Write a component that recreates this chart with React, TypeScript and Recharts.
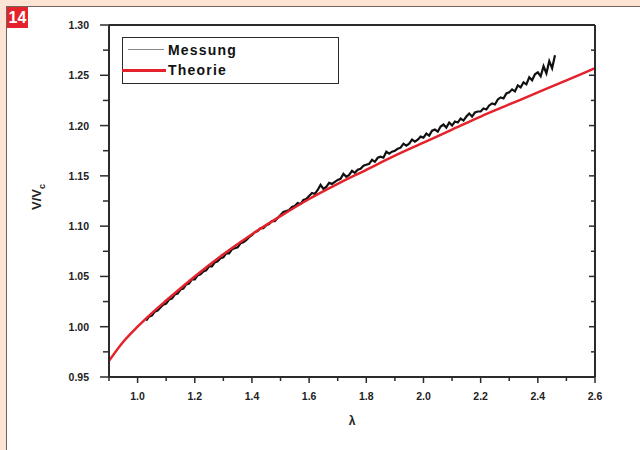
import { LineChart, Line, XAxis, YAxis } from "recharts";

const AXIS = "#2b2b2b";
const RED = "#e3222b";
const FONT = "'Liberation Sans', Arial, sans-serif";

const xTicks = [0.9, 1.0, 1.1, 1.2, 1.3, 1.4, 1.5, 1.6, 1.7, 1.8, 1.9, 2.0, 2.1, 2.2, 2.3, 2.4, 2.5, 2.6];
const yTicks = [0.95, 0.975, 1.0, 1.025, 1.05, 1.075, 1.1, 1.125, 1.15, 1.175, 1.2, 1.225, 1.25, 1.275, 1.3];

// Theorie
const theoryLambda = [0.9, 0.95, 1.0, 1.05, 1.1, 1.2, 1.3, 1.4, 1.5, 1.6, 1.7, 1.8, 1.9, 2.0, 2.1, 2.2, 2.3, 2.4, 2.5, 2.6];
const theoryRatio = [0.966, 0.985, 1.0, 1.0135, 1.026, 1.05, 1.072, 1.092, 1.11, 1.127, 1.142, 1.156, 1.17, 1.183, 1.196, 1.209, 1.221, 1.233, 1.245, 1.257];

// Messung, sampled every 0.01 from lambda = 1.03
const measStart = 1.03;
const measStep = 0.01;
const measRatio = [
  1.006, 1.010, 1.011, 1.015, 1.016, 1.019, 1.022,
  1.023, 1.027, 1.028, 1.032, 1.033, 1.037, 1.038, 1.042, 1.043, 1.047,
  1.047, 1.051, 1.052, 1.055, 1.056, 1.060, 1.060, 1.064, 1.065, 1.068,
  1.069, 1.073, 1.073, 1.077, 1.078, 1.079, 1.083, 1.084, 1.086, 1.089,
  1.091, 1.094, 1.095, 1.098, 1.098, 1.101, 1.102, 1.105, 1.105, 1.108,
  1.111, 1.114, 1.115, 1.116, 1.119, 1.120, 1.123, 1.122, 1.126, 1.127,
  1.130, 1.133, 1.132, 1.136, 1.141, 1.137, 1.139, 1.143, 1.142, 1.144,
  1.146, 1.147, 1.152, 1.149, 1.151, 1.155, 1.153, 1.156, 1.157, 1.160,
  1.161, 1.162, 1.166, 1.164, 1.168, 1.169, 1.168, 1.174, 1.172, 1.174,
  1.175, 1.177, 1.178, 1.182, 1.180, 1.182, 1.186, 1.184, 1.186, 1.189,
  1.188, 1.192, 1.190, 1.195, 1.196, 1.194, 1.199, 1.201, 1.198, 1.203,
  1.200, 1.204, 1.203, 1.207, 1.205, 1.209, 1.212, 1.209, 1.213, 1.214,
  1.214, 1.217, 1.216, 1.220, 1.222, 1.221, 1.226, 1.228, 1.227, 1.232,
  1.233, 1.236, 1.234, 1.240, 1.238, 1.243, 1.241, 1.248, 1.245, 1.251,
  1.253, 1.249, 1.259, 1.252, 1.264, 1.257, 1.270,
];

const theoryData = theoryLambda.map((l, i) => ({ lambda: l, ratio: theoryRatio[i] }));
const measData = measRatio.map((r, i) => ({
  lambda: Number((measStart + i * measStep).toFixed(2)),
  ratio: r,
}));

const isMajorX = (v: number) => Math.round(v * 10) % 2 === 0;
const isMajorY = (v: number) => Math.round(v * 1000) % 50 === 0;

const labelStyle = { fontFamily: FONT, fontSize: 10.5, fontWeight: 700, fill: "#222" };

function BottomTick({ x, y, payload }: any) {
  const v = payload.value as number;
  const major = isMajorX(v);
  return (
    <g>
      <line x1={x} x2={x} y1={y} y2={y + (major ? 6 : 4)} stroke={AXIS} strokeWidth={1.5} />
      {major && (
        <text x={x} y={y + 19} textAnchor="middle" dominantBaseline="central" {...labelStyle}>
          {v.toFixed(1)}
        </text>
      )}
    </g>
  );
}

function TopTick({ x, y, payload }: any) {
  const major = isMajorX(payload.value);
  return <line x1={x} x2={x} y1={y} y2={y + (major ? 6 : 4)} stroke={AXIS} strokeWidth={1.5} />;
}

function LeftTick({ x, y, payload }: any) {
  const v = payload.value as number;
  const major = isMajorY(v);
  return (
    <g>
      <line x1={x - (major ? 9 : 6)} x2={x} y1={y} y2={y} stroke={AXIS} strokeWidth={1.5} />
      {major && (
        <text x={x - 20} y={y} textAnchor="end" dominantBaseline="central" {...labelStyle}>
          {v.toFixed(2)}
        </text>
      )}
    </g>
  );
}

function RightTick({ x, y, payload }: any) {
  const major = isMajorY(payload.value);
  return <line x1={x - (major ? 6 : 4)} x2={x} y1={y} y2={y} stroke={AXIS} strokeWidth={1.5} />;
}

export default function App() {
  return (
    <div
      style={{
        position: "fixed",
        left: 0,
        top: 0,
        width: 640,
        height: 450,
        background: "#fde4d4",
        overflow: "hidden",
      }}
    >
      <div
        style={{
          position: "absolute",
          left: 6,
          top: 6,
          right: 0,
          bottom: 0,
          background: "#ffffff",
          borderLeft: "1px solid #6f6660",
          borderTop: "1px solid #6f6660",
        }}
      />
      <div
        style={{
          position: "absolute",
          left: 7,
          top: 7,
          width: 21,
          height: 21,
          background: RED,
          color: "#fff",
          fontFamily: FONT,
          fontWeight: 700,
          fontSize: 16,
          lineHeight: "21px",
          textAlign: "center",
        }}
      >
        14
      </div>

      <div style={{ position: "absolute", left: 0, top: 0 }}>
        <LineChart width={640} height={450} margin={{ top: 24, right: 44, bottom: 0, left: 0 }}>
          <XAxis
            xAxisId="bottom"
            dataKey="lambda"
            type="number"
            domain={[0.9, 2.6]}
            ticks={xTicks}
            interval={0}
            height={73}
            tickSize={0}
            tickMargin={0}
            tickLine={false}
            axisLine={{ stroke: AXIS, strokeWidth: 2 }}
            tick={BottomTick}
            allowDataOverflow
          />
          <XAxis
            xAxisId="top"
            orientation="top"
            type="number"
            domain={[0.9, 2.6]}
            ticks={xTicks}
            interval={0}
            height={1}
            tickSize={0}
            tickMargin={0}
            tickLine={false}
            axisLine={{ stroke: AXIS, strokeWidth: 2 }}
            tick={TopTick}
            allowDataOverflow
          />
          <YAxis
            yAxisId="left"
            type="number"
            domain={[0.95, 1.3]}
            ticks={yTicks}
            interval={0}
            width={109}
            tickSize={0}
            tickMargin={0}
            tickLine={false}
            axisLine={{ stroke: AXIS, strokeWidth: 2 }}
            tick={LeftTick}
            allowDataOverflow
          />
          <YAxis
            yAxisId="right"
            orientation="right"
            type="number"
            domain={[0.95, 1.3]}
            ticks={yTicks}
            interval={0}
            width={1}
            tickSize={0}
            tickMargin={0}
            tickLine={false}
            axisLine={{ stroke: AXIS, strokeWidth: 2 }}
            tick={RightTick}
            allowDataOverflow
          />
          <Line
            xAxisId="bottom"
            yAxisId="left"
            data={measData}
            dataKey="ratio"
            type="linear"
            stroke="#111"
            strokeWidth={2.2}
            dot={false}
            isAnimationActive={false}
          />
          <Line
            xAxisId="bottom"
            yAxisId="left"
            data={theoryData}
            dataKey="ratio"
            type="monotone"
            stroke={RED}
            strokeWidth={2.5}
            dot={false}
            isAnimationActive={false}
          />
        </LineChart>
      </div>

      {/* legend box */}
      <div
        style={{
          position: "absolute",
          left: 122,
          top: 37,
          width: 217,
          height: 47,
          boxSizing: "border-box",
          border: `1.5px solid ${AXIS}`,
          background: "#fff",
          fontFamily: FONT,
          fontWeight: 700,
          fontSize: 14,
          letterSpacing: 1.2,
          color: "#111",
        }}
      >
        <div style={{ position: "absolute", left: 5, top: 11, width: 36, height: 1, background: "#8a8a8a" }} />
        <div style={{ position: "absolute", left: 45, top: 2, lineHeight: "20px" }}>Messung</div>
        <div style={{ position: "absolute", left: -1, top: 31, width: 44, height: 2.5, background: RED }} />
        <div style={{ position: "absolute", left: 45, top: 22, lineHeight: "20px" }}>Theorie</div>
      </div>

      {/* axis titles */}
      <div
        style={{
          position: "absolute",
          left: 352,
          top: 421,
          transform: "translate(-50%, -50%)",
          fontFamily: FONT,
          fontWeight: 700,
          fontSize: 12,
          color: "#222",
        }}
      >
        λ
      </div>
      <div
        style={{
          position: "absolute",
          left: 38,
          top: 197,
          transform: "translate(-50%, -50%) rotate(-90deg)",
          fontFamily: FONT,
          fontWeight: 700,
          fontSize: 13,
          color: "#222",
          whiteSpace: "nowrap",
        }}
      >
        V/V<sub style={{ fontSize: 9 }}>c</sub>
      </div>
    </div>
  );
}
